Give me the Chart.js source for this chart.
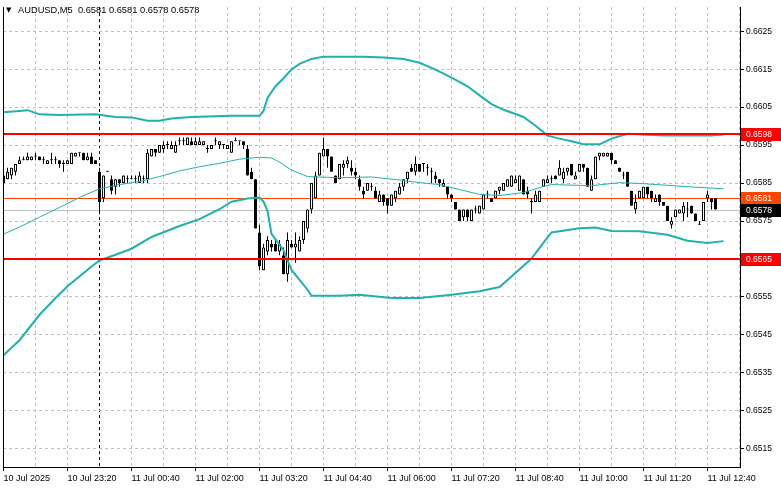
<!DOCTYPE html>
<html>
<head>
<meta charset="utf-8">
<script src="https://cdn.jsdelivr.net/npm/chart.js@4.4.1/dist/chart.umd.min.js"></script>
<style>
html, body { margin: 0; padding: 0; background: #fff; }
#wrap { width: 781px; height: 489px; }
</style>
</head>
<body>
<div id="wrap"><canvas id="priceChart"></canvas></div>
<script>
// AUDUSD M5 candles, 10 Jul 22:00 .. 11 Jul 12:50
var symbolName = 'AUDUSD,M5';
var opens = [
0.6585,0.6586,0.6587,0.6588,0.6590,0.6591,0.6591,0.6591,0.6592,0.6592,
0.6591,0.6590,0.6591,0.6591,0.6591,0.6590,0.6590,0.6590,0.6592,0.6593,
0.6593,0.6591,0.6592,0.6591,0.6588,0.6581,0.6588,0.6586,0.6584,0.6586,
0.6585,0.6586,0.6586,0.6586,0.6585,0.6586,0.6586,0.6592,0.6594,0.6593,
0.6594,0.6595,0.6594,0.6593,0.6596,0.6596,0.6595,0.6596,0.6595,0.6595,
0.6595,0.6594,0.6594,0.6596,0.6595,0.6595,0.6594,0.6593,0.6596,0.6596,
0.6596,0.6594,0.6588,0.6586,0.6572,0.6562,0.6567,0.6569,0.6569,0.6567,
0.6566,0.6561,0.6569,0.6568,0.6567,0.6570,0.6573,0.6578,0.6581,0.6587,
0.6592,0.6594,0.6592,0.6587,0.6586,0.6589,0.6590,0.6589,0.6588,0.6586,
0.6583,0.6583,0.6584,0.6583,0.6580,0.6582,0.6581,0.6579,0.6581,0.6582,
0.6584,0.6586,0.6589,0.6588,0.6590,0.6590,0.6589,0.6588,0.6587,0.6586,
0.6584,0.6584,0.6582,0.6580,0.6578,0.6576,0.6578,0.6575,0.6578,0.6577,
0.6578,0.6582,0.6581,0.6581,0.6583,0.6583,0.6584,0.6584,0.6585,0.6583,
0.6586,0.6583,0.6580,0.6580,0.6580,0.6584,0.6585,0.6586,0.6587,0.6587,
0.6586,0.6588,0.6590,0.6586,0.6588,0.6590,0.6589,0.6583,0.6586,0.6592,
0.6592,0.6592,0.6593,0.6591,0.6589,0.6587,0.6588,0.6583,0.6578,0.6581,
0.6581,0.6584,0.6583,0.6580,0.6582,0.6580,0.6579,0.6574,0.6576,0.6577,
0.6577,0.6578,0.6579,0.6577,0.6574,0.6575,0.6581,0.6581,0.6581];
var highs = [
0.6587,0.6589,0.6589,0.6590,0.6592,0.6592,0.6593,0.6592,0.6593,0.6592,
0.6592,0.6591,0.6593,0.6592,0.6591,0.6591,0.6591,0.6593,0.6593,0.6593,
0.6593,0.6593,0.6593,0.6591,0.6589,0.6587,0.6588,0.6587,0.6586,0.6586,
0.6587,0.6587,0.6587,0.6587,0.6588,0.6587,0.6594,0.6594,0.6594,0.6595,
0.6596,0.6596,0.6596,0.6596,0.6597,0.6597,0.6597,0.6597,0.6597,0.6597,
0.6596,0.6595,0.6595,0.6597,0.6596,0.6595,0.6595,0.6596,0.6597,0.6596,
0.6596,0.6595,0.6589,0.6586,0.6574,0.6569,0.6571,0.6570,0.6570,0.6570,
0.6568,0.6572,0.6570,0.6572,0.6571,0.6575,0.6578,0.6585,0.6588,0.6593,
0.6597,0.6594,0.6592,0.6587,0.6590,0.6591,0.6592,0.6591,0.6589,0.6587,
0.6584,0.6585,0.6585,0.6584,0.6583,0.6582,0.6581,0.6582,0.6583,0.6585,
0.6586,0.6588,0.6590,0.6592,0.6590,0.6590,0.6590,0.6589,0.6588,0.6586,
0.6586,0.6584,0.6582,0.6580,0.6578,0.6578,0.6578,0.6578,0.6579,0.6579,
0.6582,0.6583,0.6581,0.6583,0.6584,0.6585,0.6586,0.6587,0.6587,0.6587,
0.6586,0.6584,0.6581,0.6583,0.6583,0.6586,0.6587,0.6587,0.6587,0.6591,
0.6589,0.6589,0.6590,0.6588,0.6590,0.6590,0.6589,0.6587,0.6592,0.6593,
0.6593,0.6593,0.6593,0.6591,0.6589,0.6588,0.6588,0.6583,0.6582,0.6583,
0.6584,0.6584,0.6583,0.6582,0.6582,0.6580,0.6579,0.6576,0.6578,0.6578,
0.6580,0.6580,0.6579,0.6577,0.6575,0.6580,0.6583,0.6581,0.6581];
var lows = [
0.6584,0.6586,0.6586,0.6587,0.6590,0.6591,0.6591,0.6591,0.6591,0.6591,
0.6590,0.6590,0.6590,0.6590,0.6589,0.6588,0.6590,0.6590,0.6592,0.6592,
0.6591,0.6591,0.6590,0.6590,0.6577,0.6580,0.6588,0.6582,0.6582,0.6584,
0.6585,0.6585,0.6586,0.6585,0.6585,0.6585,0.6585,0.6592,0.6592,0.6593,
0.6593,0.6594,0.6594,0.6593,0.6595,0.6595,0.6595,0.6595,0.6595,0.6595,
0.6595,0.6593,0.6594,0.6595,0.6594,0.6594,0.6594,0.6593,0.6596,0.6595,
0.6594,0.6587,0.6586,0.6573,0.6562,0.6562,0.6566,0.6567,0.6567,0.6566,
0.6561,0.6559,0.6568,0.6564,0.6567,0.6569,0.6572,0.6577,0.6581,0.6587,
0.6592,0.6589,0.6588,0.6585,0.6586,0.6587,0.6589,0.6587,0.6586,0.6583,
0.6581,0.6583,0.6583,0.6581,0.6580,0.6579,0.6577,0.6579,0.6580,0.6582,
0.6583,0.6585,0.6588,0.6587,0.6588,0.6588,0.6587,0.6585,0.6585,0.6584,
0.6584,0.6581,0.6580,0.6578,0.6575,0.6575,0.6575,0.6575,0.6577,0.6577,
0.6578,0.6581,0.6580,0.6581,0.6582,0.6583,0.6584,0.6584,0.6585,0.6583,
0.6582,0.6581,0.6577,0.6580,0.6580,0.6584,0.6585,0.6585,0.6586,0.6587,
0.6585,0.6587,0.6587,0.6586,0.6588,0.6588,0.6584,0.6583,0.6586,0.6591,
0.6592,0.6592,0.6590,0.6590,0.6588,0.6586,0.6584,0.6579,0.6577,0.6581,
0.6581,0.6581,0.6580,0.6580,0.6579,0.6579,0.6575,0.6573,0.6576,0.6577,
0.6575,0.6576,0.6577,0.6575,0.6574,0.6575,0.6580,0.6578,0.6578];
var closes = [
0.6587,0.6588,0.6589,0.6590,0.6591,0.6591,0.6592,0.6592,0.6592,0.6591,
0.6591,0.6591,0.6591,0.6591,0.6590,0.6590,0.6591,0.6593,0.6593,0.6593,
0.6591,0.6592,0.6590,0.6590,0.6580,0.6587,0.6588,0.6583,0.6586,0.6585,
0.6587,0.6586,0.6586,0.6586,0.6587,0.6586,0.6593,0.6594,0.6593,0.6595,
0.6595,0.6595,0.6595,0.6595,0.6596,0.6596,0.6597,0.6595,0.6596,0.6596,
0.6596,0.6594,0.6595,0.6596,0.6596,0.6595,0.6595,0.6596,0.6596,0.6596,
0.6595,0.6587,0.6586,0.6573,0.6563,0.6568,0.6570,0.6568,0.6567,0.6569,
0.6561,0.6570,0.6568,0.6569,0.6570,0.6575,0.6578,0.6585,0.6587,0.6593,
0.6594,0.6592,0.6588,0.6585,0.6590,0.6590,0.6591,0.6588,0.6587,0.6584,
0.6582,0.6585,0.6584,0.6581,0.6582,0.6580,0.6579,0.6582,0.6583,0.6584,
0.6586,0.6588,0.6588,0.6590,0.6588,0.6590,0.6589,0.6588,0.6586,0.6585,
0.6585,0.6582,0.6581,0.6578,0.6575,0.6578,0.6576,0.6578,0.6578,0.6579,
0.6582,0.6582,0.6580,0.6583,0.6584,0.6585,0.6586,0.6587,0.6586,0.6587,
0.6582,0.6582,0.6580,0.6582,0.6583,0.6586,0.6586,0.6586,0.6586,0.6589,
0.6588,0.6589,0.6587,0.6587,0.6590,0.6589,0.6584,0.6586,0.6592,0.6593,
0.6593,0.6593,0.6591,0.6590,0.6588,0.6587,0.6584,0.6579,0.6580,0.6583,
0.6584,0.6582,0.6581,0.6581,0.6580,0.6579,0.6575,0.6575,0.6578,0.6578,
0.6579,0.6578,0.6577,0.6575,0.6574,0.6580,0.6582,0.6580,0.6578];

// Bollinger bands at bar indices
var upperIdx = [-1,4,6,9,14,23,28,32,36,39,42,47,57,64,65,66,68,70,72,74,77,80,90,95,100,104,108,112,116,119,122,125,128,130,133,136,139,142,145,149,152,156,160,165,172,177,180];
var upperBand = [0.66036,0.66040,0.66042,0.66031,0.66029,0.66031,0.66024,0.66023,0.66014,0.66014,0.66020,0.66024,0.66027,0.66027,0.66040,0.66074,0.66105,0.66126,0.66149,0.66164,0.66177,0.66183,0.66183,0.66181,0.66177,0.66167,0.66149,0.66128,0.66105,0.66081,0.66058,0.66043,0.66032,0.66024,0.66001,0.65975,0.65967,0.65960,0.65952,0.65952,0.65967,0.65980,0.65978,0.65975,0.65975,0.65975,0.65978];
var midIdx = [-1,4,9,14,19,24,29,34,39,44,49,54,59,64,67,69,72,76,84,92,99,104,109,114,119,124,130,135,137,147,154,159,166,173,180];
var midBand = [0.65711,0.65734,0.65760,0.65786,0.65812,0.65835,0.65846,0.65854,0.65867,0.65882,0.65893,0.65902,0.65913,0.65918,0.65916,0.65905,0.65884,0.65867,0.65864,0.65866,0.65858,0.65851,0.65846,0.65833,0.65820,0.65817,0.65825,0.65841,0.65846,0.65843,0.65851,0.65849,0.65844,0.65839,0.65835];
var lowerIdx = [-1,4,9,13,16,22,24,28,32,37,44,49,54,57,61,64,65,66,67,70,72,76,77,84,89,97,104,112,119,124,127,132,136,137,144,148,152,159,166,171,176,180];
var lowerBand = [0.65387,0.65436,0.65503,0.65547,0.65578,0.65630,0.65646,0.65661,0.65677,0.65708,0.65737,0.65755,0.65781,0.65801,0.65809,0.65812,0.65801,0.65776,0.65716,0.65673,0.65621,0.65569,0.65553,0.65553,0.65556,0.65547,0.65547,0.65556,0.65565,0.65576,0.65604,0.65651,0.65707,0.65720,0.65731,0.65733,0.65724,0.65723,0.65714,0.65698,0.65692,0.65697];

// horizontal levels and quote lines
var levels = [0.6598, 0.6565];
var askPrice = 0.6581;
var bidPrice = 0.6578;

// axes
var priceTicks = [0.6515,0.6525,0.6535,0.6545,0.6555,0.6565,0.6575,0.6585,0.6595,0.6605,0.6615,0.6625];
var timeLabels = ['10 Jul 2025','10 Jul 23:20','11 Jul 00:40','11 Jul 02:00','11 Jul 03:20','11 Jul 04:40',
                  '11 Jul 06:00','11 Jul 07:20','11 Jul 08:40','11 Jul 10:00','11 Jul 11:20','11 Jul 12:40'];
var barsPerLabel = 16;
var barsPerGrid = 8;
var daySeparator = 24; // 11 Jul 00:00

var FONT = '"Liberation Sans", Arial, sans-serif';

function pairs(idx, vals) {
    return idx.map(function (x, k) { return { x: x, y: vals[k] }; });
}

var wickData = [], bodyData = [];
for (var i = 0; i < opens.length; i++) {
    wickData.push({ x: i, y: [lows[i], highs[i]] });
    bodyData.push({ x: i, y: [opens[i], closes[i]] });
}

var levelsPlugin = {
    id: 'levels',
    beforeDatasetsDraw: function (chart) {
        var ctx = chart.ctx, a = chart.chartArea, ys = chart.scales.y;
        ctx.save();
        ctx.lineWidth = 1;
        ctx.strokeStyle = '#c0c0c0';
        var yb = Math.round(ys.getPixelForValue(bidPrice)) + 0.5;
        ctx.beginPath(); ctx.moveTo(a.left, yb); ctx.lineTo(a.right, yb); ctx.stroke();
        ctx.strokeStyle = '#ff4500';
        var ya = Math.round(ys.getPixelForValue(askPrice)) + 0.5;
        ctx.beginPath(); ctx.moveTo(a.left, ya); ctx.lineTo(a.right, ya); ctx.stroke();
        ctx.restore();
    },
    afterDatasetsDraw: function (chart) {
        var ctx = chart.ctx, a = chart.chartArea, ys = chart.scales.y;
        ctx.save();
        ctx.lineWidth = 2;
        ctx.strokeStyle = '#ff0000';
        levels.forEach(function (p) {
            var y = Math.round(ys.getPixelForValue(p));
            ctx.beginPath(); ctx.moveTo(a.left, y); ctx.lineTo(a.right, y); ctx.stroke();
        });
        // left side of the frame
        ctx.lineWidth = 1;
        ctx.strokeStyle = '#000';
        ctx.beginPath(); ctx.moveTo(a.left + 0.5, a.top); ctx.lineTo(a.left + 0.5, a.bottom); ctx.stroke();
        ctx.restore();
    },
    afterDraw: function (chart) {
        var ctx = chart.ctx, a = chart.chartArea, ys = chart.scales.y;
        ctx.save();
        // price tags on the right axis
        var tags = [
            { p: levels[0], bg: '#ff0000' },
            { p: askPrice, bg: '#ff4500' },
            { p: bidPrice, bg: '#000000' },
            { p: levels[1], bg: '#ff0000' }
        ];
        ctx.font = '8.5px ' + FONT;
        ctx.textBaseline = 'middle';
        tags.forEach(function (t) {
            var y = Math.round(ys.getPixelForValue(t.p));
            ctx.fillStyle = t.bg;
            ctx.fillRect(a.right + 1, y - 6, chart.width - a.right - 1, 13);
            ctx.fillStyle = '#fff';
            ctx.fillText(t.p.toFixed(4), a.right + 6, y + 0.5);
        });
        // header
        var n = opens.length - 1;
        ctx.fillStyle = '#000';
        ctx.font = '7px "DejaVu Sans", sans-serif';
        ctx.fillText('\u25BC', 6, 10);
        ctx.font = '9.3px ' + FONT;
        var ohlc = [opens[n], highs[n], lows[n], closes[n]].map(function (v) { return v.toFixed(4); }).join(' ');
        ctx.fillText(symbolName + '  ' + ohlc, 18, 10);
        ctx.restore();
    }
};

var ctx = document.getElementById('priceChart').getContext('2d');
var priceChart = new Chart(ctx, {
    type: 'line',
    data: {
        datasets: [
            {
                type: 'line', label: 'BB upper', data: pairs(upperIdx, upperBand),
                borderColor: '#20b2aa', borderWidth: 2, pointRadius: 0, tension: 0, order: 1
            },
            {
                type: 'line', label: 'BB middle', data: pairs(midIdx, midBand),
                borderColor: '#20b2aa', borderWidth: 1, pointRadius: 0, tension: 0, order: 1
            },
            {
                type: 'line', label: 'BB lower', data: pairs(lowerIdx, lowerBand),
                borderColor: '#20b2aa', borderWidth: 2, pointRadius: 0, tension: 0, order: 1
            },
            {
                type: 'bar', label: 'bodies', data: bodyData,
                barThickness: 3, grouped: false, minBarLength: 1,
                borderWidth: 1, borderColor: '#000', borderSkipped: false, inflateAmount: 0,
                backgroundColor: function (c) {
                    var k = c.dataIndex;
                    return closes[k] > opens[k] ? '#ffffff' : '#000000';
                },
                order: 3
            },
            {
                type: 'bar', label: 'wicks', data: wickData,
                barThickness: 1, grouped: false, minBarLength: 1,
                borderWidth: 0, borderSkipped: false, inflateAmount: 0,
                backgroundColor: '#000', order: 4
            }
        ]
    },
    options: {
        responsive: true,
        maintainAspectRatio: false,
        animation: false,
        devicePixelRatio: 1,
        layout: { padding: { left: 3, top: 0, right: 0, bottom: 0 } },
        plugins: { legend: { display: false }, tooltip: { enabled: false }, title: { display: false } },
        scales: {
            x: {
                type: 'linear', min: -0.125, max: 184.125, offset: false,
                afterBuildTicks: function (scale) {
                    var t = [];
                    for (var v = 0; v <= scale.max; v += barsPerGrid) t.push({ value: v });
                    scale.ticks = t;
                },
                afterFit: function (scale) { scale.height = 22; },
                grid: {
                    offset: false, tickLength: 4,
                    tickColor: function (c) {
                        return c.tick && c.tick.value % barsPerLabel === 0 ? '#000000' : 'rgba(0,0,0,0)';
                    },
                    color: function (c) {
                        return c.tick && c.tick.value === daySeparator ? '#000000' : '#c0c0c0';
                    }
                },
                border: { color: '#000', dash: [3, 3] },
                ticks: {
                    autoSkip: false, maxRotation: 0, minRotation: 0, align: 'start', padding: 2,
                    color: '#000', font: { family: FONT, size: 9 },
                    callback: function (v) { return v % barsPerLabel === 0 ? timeLabels[v / barsPerLabel] : ''; }
                }
            },
            y: {
                type: 'linear', position: 'right', min: 0.65102, max: 0.663135,
                afterBuildTicks: function (scale) {
                    scale.ticks = priceTicks.map(function (v) { return { value: v }; });
                },
                afterFit: function (scale) { scale.width = 41; },
                grid: { tickLength: 4, tickColor: '#000', color: '#c0c0c0' },
                border: { color: '#000', dash: [3, 3] },
                ticks: {
                    padding: 2, color: '#000', font: { family: FONT, size: 8.5 },
                    callback: function (v) { return v.toFixed(4); }
                }
            }
        }
    },
    plugins: [levelsPlugin]
});
</script>
</body>
</html>
